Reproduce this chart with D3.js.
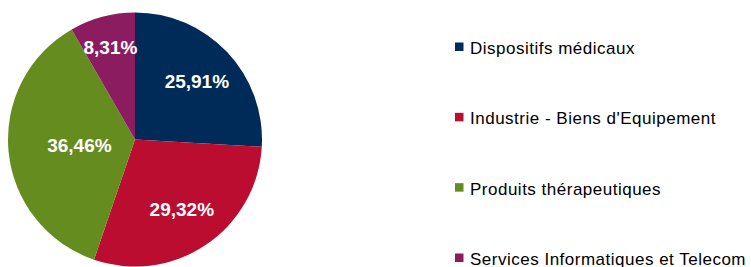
<!DOCTYPE html>
<html>
<head>
<meta charset="utf-8">
<script src="https://cdn.jsdelivr.net/npm/d3@7"></script>
<style>
  body { margin: 0; background: #fff; }
  svg { display: block; font-family: "Liberation Sans", Arial, sans-serif; }
</style>
</head>
<body>
<div id="chart"></div>
<script>
// data
const categories = ["Dispositifs médicaux", "Industrie - Biens d'Equipement", "Produits thérapeutiques", "Services Informatiques et Telecom"];
const shares = [25.91, 29.32, 36.46, 8.31];
const colors = ["#002B58", "#BA0D30", "#658C1E", "#8B1C5F"];
const labelRadius = [0.67, 0.66, 0.44, 0.75]; // fraction of pie radius, excel "best fit" style

const W = 751, H = 267;
const cx = 135, cy = 139.5, R = 127;

const svg = d3.select("#chart").append("svg")
  .attr("width", W).attr("height", H);

const pie = d3.pie().sort(null).value(d => d);
const arcs = pie(shares);
const arc = d3.arc().innerRadius(0).outerRadius(R);

const g = svg.append("g").attr("transform", `translate(${cx},${cy})`);

g.selectAll("path.slice")
  .data(arcs)
  .join("path")
  .attr("class", "slice")
  .attr("d", arc)
  .attr("fill", (d, i) => colors[i]);

const fmt = v => v.toFixed(2).replace(".", ",") + "%";

g.selectAll("text.lbl")
  .data(arcs)
  .join("text")
  .attr("class", "lbl")
  .attr("transform", (d, i) => {
    const r = R * labelRadius[i];
    const a = (d.startAngle + d.endAngle) / 2;
    return `translate(${Math.sin(a) * r},${-Math.cos(a) * r})`;
  })
  .attr("text-anchor", "middle")
  .attr("dy", "0.36em")
  .attr("fill", "#fff")
  .attr("font-weight", "bold")
  .attr("font-size", 19)
  .text(d => fmt(d.data));

// legend
const legendY = d3.scalePoint().domain(categories).range([47, 258]);

const leg = svg.append("g").selectAll("g")
  .data(categories)
  .join("g")
  .attr("transform", d => `translate(455,${legendY(d)})`);

leg.append("rect")
  .attr("x", 0).attr("y", -4.5)
  .attr("width", 8.5).attr("height", 8.5)
  .attr("fill", (d, i) => colors[i]);

leg.append("text")
  .attr("x", 15)
  .attr("dy", "0.42em")
  .attr("font-size", 17)
  .attr("letter-spacing", 0.5)
  .attr("fill", "#000")
  .text(d => d);
</script>
</body>
</html>
